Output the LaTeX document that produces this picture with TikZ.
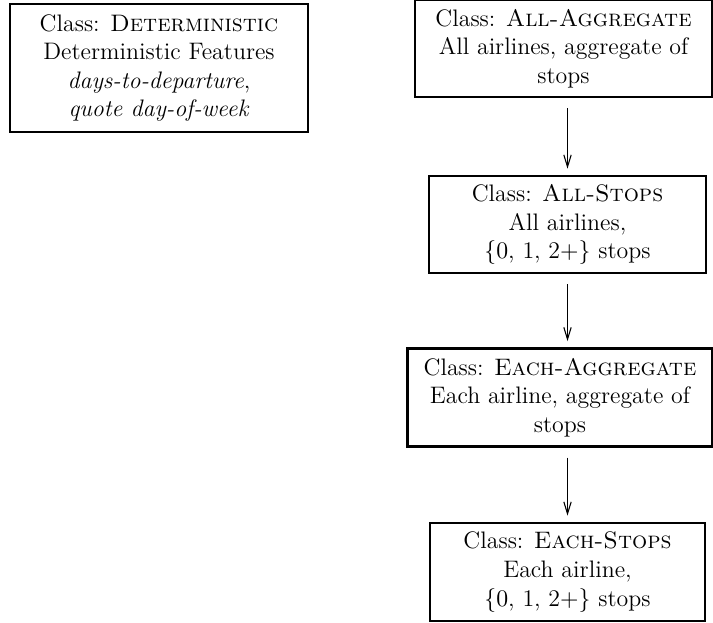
\documentclass[tikz,border=0pt]{standalone}
\usetikzlibrary{calc,arrows.meta}
\begin{document}
\begin{tikzpicture}[x=0.4608pt,y=-0.4608pt,
  classbox/.style={draw,line width=1.2pt,align=center,inner sep=0pt,font=\fontsize{11}{13.2}\selectfont},
  flow/.style={-{Straight Barb[length=5.5pt,width=3.4pt]},line width=0.5pt,shorten <=4.5pt,shorten >=2.8pt}]
\useasboundingbox (0,0) rectangle (713,622);
\node[classbox,minimum width=137.3pt,minimum height=59pt] (det) at (159,68)
  {Class: \textsc{Deterministic}\\Deterministic Features\\\textit{days-to-departure},\\\textit{quote day-of-week}};
\node[classbox,minimum width=136.9pt,minimum height=44.7pt] (allagg) at (563.5,48.5)
  {Class: \textsc{All-Aggregate}\\All airlines, aggregate of\\stops};
\node[classbox,minimum width=127.6pt,minimum height=44.7pt] (allstops) at (567.5,224.5)
  {Class: \textsc{All-Stops}\\All airlines,\\$\{0$, 1, 2$+\}$ stops};
\node[classbox,minimum width=140.5pt,minimum height=45.2pt] (eachagg) at (560,397.5)
  {Class: \textsc{Each-Aggregate}\\Each airline, aggregate of\\stops};
\node[classbox,minimum width=126.7pt,minimum height=45.2pt] (eachstops) at (567.5,572)
  {Class: \textsc{Each-Stops}\\Each airline,\\$\{0$, 1, 2$+\}$ stops};
\draw[flow] (allagg.south -| allstops.north) -- (allstops.north);
\draw[flow] (allstops.south) -- (allstops.south |- eachagg.north);
\draw[flow] (eachagg.south -| eachstops.north) -- (eachstops.north);
\end{tikzpicture}
\end{document}
